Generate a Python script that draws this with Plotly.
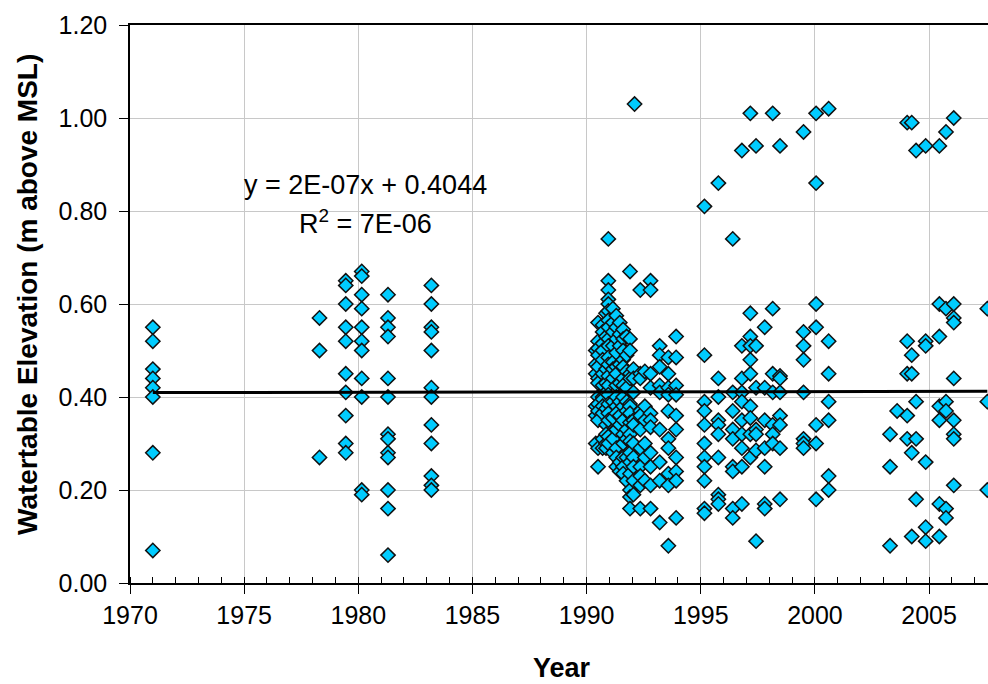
import plotly.graph_objects as go

# ---- data (year -> watertable elevations, m above MSL) ----
early_obs = {
    1971.0: [0.55, 0.52, 0.46, 0.44, 0.42, 0.40, 0.28, 0.07],
    1978.3: [0.57, 0.50, 0.27],
    1979.45: [0.65, 0.64, 0.60, 0.55, 0.52, 0.45, 0.41, 0.36, 0.30, 0.28],
    1980.15: [0.67, 0.66, 0.62, 0.59, 0.55, 0.52, 0.50, 0.44, 0.40, 0.20, 0.19],
    1981.3: [0.62, 0.57, 0.55, 0.53, 0.44, 0.40, 0.32, 0.31, 0.28, 0.27, 0.20, 0.16, 0.06],
    1983.2: [0.64, 0.60, 0.55, 0.54, 0.50, 0.42, 0.40, 0.34, 0.30, 0.23, 0.21, 0.20],
}

dense_obs = {
    1990.4: [0.50, 0.47, 0.45, 0.38, 0.36, 0.30],
    1990.5: [0.56, 0.52, 0.505, 0.49, 0.465, 0.44, 0.43, 0.40, 0.385, 0.37, 0.35, 0.29, 0.25],
    1990.7: [0.555, 0.54, 0.515, 0.50, 0.48, 0.45, 0.425, 0.40, 0.395, 0.38, 0.365, 0.31, 0.29],
    1990.85: [0.58, 0.53, 0.46, 0.43, 0.41, 0.375, 0.34, 0.32, 0.30, 0.29],
    1990.95: [0.74, 0.65, 0.63, 0.61, 0.60, 0.585, 0.565, 0.55, 0.525, 0.51, 0.485, 0.47,
              0.445, 0.425, 0.405, 0.385, 0.365, 0.35, 0.315, 0.30],
    1991.15: [0.59, 0.56, 0.54, 0.51, 0.475, 0.46, 0.44, 0.39, 0.355, 0.31, 0.28],
    1991.3: [0.575, 0.55, 0.525, 0.495, 0.465, 0.45, 0.425, 0.40, 0.38, 0.365, 0.33, 0.29, 0.27, 0.25],
    1991.45: [0.56, 0.535, 0.51, 0.47, 0.43, 0.39, 0.36, 0.34, 0.26, 0.24],
    1991.6: [0.545, 0.525, 0.50, 0.48, 0.465, 0.44, 0.425, 0.40, 0.38, 0.35, 0.32, 0.30, 0.27, 0.25, 0.235],
    1991.75: [0.53, 0.49, 0.455, 0.42, 0.39, 0.37, 0.33, 0.31, 0.27, 0.22],
    1991.9: [0.67, 0.525, 0.50, 0.45, 0.44, 0.385, 0.38, 0.365, 0.345, 0.32, 0.305, 0.28, 0.26,
             0.235, 0.20, 0.185, 0.16],
    1992.05: [0.46, 0.44, 0.41, 0.35, 0.34, 0.30, 0.27, 0.25, 0.22, 0.19],
    1992.1: [1.03],
    1992.35: [0.63, 0.45, 0.44, 0.37, 0.36, 0.33, 0.29, 0.25, 0.23, 0.21, 0.16],
    1992.55: [0.455, 0.38, 0.35, 0.30, 0.27, 0.22],
    1992.8: [0.65, 0.63, 0.45, 0.42, 0.365, 0.35, 0.335, 0.28, 0.25, 0.21, 0.16],
    1993.2: [0.51, 0.49, 0.465, 0.425, 0.41, 0.33, 0.26, 0.22, 0.13],
    1993.58: [0.485, 0.45, 0.42, 0.405, 0.37, 0.31, 0.29, 0.235, 0.21, 0.08],
    1993.92: [0.53, 0.485, 0.425, 0.405, 0.36, 0.33, 0.27, 0.24, 0.22, 0.14],
}

late_obs = {
    1995.16: [0.81, 0.49, 0.39, 0.37, 0.34, 0.30, 0.27, 0.25, 0.22, 0.16, 0.15],
    1995.77: [0.86, 0.44, 0.40, 0.35, 0.34, 0.32, 0.27, 0.19, 0.18, 0.17],
    1996.4: [0.74, 0.41, 0.37, 0.33, 0.31, 0.25, 0.24, 0.16, 0.14],
    1996.8: [0.93, 0.51, 0.44, 0.41, 0.39, 0.35, 0.32, 0.29, 0.25, 0.17],
    1997.17: [1.01, 0.58, 0.53, 0.51, 0.48, 0.45, 0.38, 0.355, 0.32, 0.27],
    1997.42: [0.94, 0.51, 0.42, 0.33, 0.32, 0.285, 0.09],
    1997.8: [0.55, 0.42, 0.35, 0.29, 0.25, 0.17, 0.16],
    1998.15: [1.01, 0.59, 0.45, 0.41, 0.34, 0.32, 0.30],
    1998.47: [0.94, 0.445, 0.44, 0.41, 0.36, 0.34, 0.29, 0.18],
    1999.5: [0.97, 0.54, 0.51, 0.48, 0.41, 0.31, 0.30, 0.29],
    2000.05: [1.01, 0.86, 0.60, 0.55, 0.34, 0.30, 0.18],
    2000.6: [1.02, 0.52, 0.45, 0.39, 0.35, 0.23, 0.20],
}

recent_obs = {
    2003.29: [0.32, 0.25, 0.08],
    2003.6: [0.37],
    2004.04: [0.99, 0.52, 0.45, 0.36, 0.31],
    2004.24: [0.99, 0.49, 0.45, 0.28, 0.10],
    2004.43: [0.93, 0.39, 0.31, 0.18],
    2004.85: [0.94, 0.52, 0.51, 0.26, 0.12, 0.09],
    2005.45: [0.94, 0.60, 0.53, 0.38, 0.35, 0.17, 0.10],
    2005.74: [0.97, 0.59, 0.39, 0.37, 0.16, 0.14],
    2006.08: [1.00, 0.60, 0.57, 0.56, 0.44, 0.35, 0.32, 0.31, 0.21],
    2007.55: [0.59, 0.39, 0.20],
}

# Excel linear trend (x = Excel date serial)
trend_slope = 2e-07
trend_intercept = 0.4044
equation_text = "y = 2E-07x + 0.4044"
r2_text = "R<sup>2</sup> = 7E-06"

x_tick_vals = [1970, 1975, 1980, 1985, 1990, 1995, 2000, 2005]
y_tick_vals = [0.0, 0.2, 0.4, 0.6, 0.8, 1.0, 1.2]

# ---- build ----
years, elev = [], []
for group in (early_obs, dense_obs, late_obs, recent_obs):
    for yr, vals in group.items():
        for v in vals:
            years.append(yr)
            elev.append(v)


def excel_serial(year):
    return 25569 + (year - 1970) * 365.25


trend_x = [min(years), max(years)]
trend_y = [trend_slope * excel_serial(x) + trend_intercept for x in trend_x]

FONT = "Liberation Sans, Arial, sans-serif"

fig = go.Figure()
fig.add_trace(go.Scatter(
    x=years, y=elev, mode="markers",
    marker=dict(symbol="diamond", size=11, color="#00CCFF",
                line=dict(color="#111111", width=1.5)),
    showlegend=False,
))
fig.add_trace(go.Scatter(
    x=trend_x, y=trend_y, mode="lines",
    line=dict(color="black", width=3), showlegend=False,
))

fig.update_layout(
    width=988, height=684,
    margin=dict(l=130, r=0, t=25, b=101),
    paper_bgcolor="white", plot_bgcolor="white",
    font=dict(family=FONT, color="black"),
    annotations=[
        dict(x=1980.3, y=0.856, xref="x", yref="y", text=equation_text,
             showarrow=False, font=dict(size=27, family=FONT)),
        dict(x=1980.3, y=0.776, xref="x", yref="y", text=r2_text,
             showarrow=False, font=dict(size=27, family=FONT)),
        dict(x=(27 - 130) / 858, y=(583 - 295) / 558, xref="paper", yref="paper",
             xanchor="center", yanchor="middle",
             text="<b>Watertable Elevation (m above MSL)</b>", textangle=-90,
             showarrow=False, font=dict(size=28, family=FONT)),
        dict(x=(562 - 130) / 858, y=-(668 - 583) / 558, xref="paper", yref="paper",
             xanchor="center", yanchor="middle",
             text="<b>Year</b>", showarrow=False, font=dict(size=27, family=FONT)),
    ],
)

fig.update_xaxes(
    range=[1970, 2007.58], tickvals=x_tick_vals,
    showgrid=True, gridcolor="#c8c8c8", gridwidth=1,
    showline=True, linecolor="black", linewidth=1.5, mirror=True,
    ticks="outside", ticklen=9, tickcolor="black", tickwidth=1,
    minor=dict(dtick=1, tick0=1970, ticks="inside", ticklen=6, tickcolor="black", showgrid=False),
    tickfont=dict(size=25, family=FONT), zeroline=False,
)
fig.update_yaxes(
    range=[0, 1.2], tickvals=y_tick_vals, tickformat=".2f",
    showgrid=True, gridcolor="#c8c8c8", gridwidth=1,
    showline=True, linecolor="black", linewidth=1.5,
    ticks="outside", ticklen=9, tickcolor="black", tickwidth=1,
    ticklabelstandoff=7,
    tickfont=dict(size=25, family=FONT), zeroline=False,
)

fig.write_html("out.html")
